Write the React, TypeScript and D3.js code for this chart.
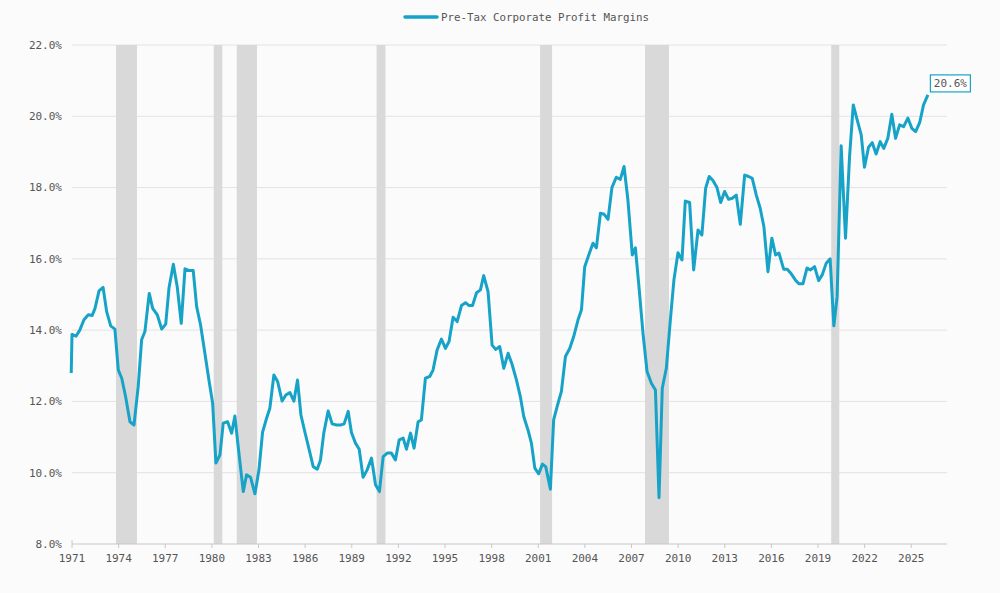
import React from 'react';
import * as d3 from 'd3';

// quarterly readings, decimal year
const dates = [
  1970.95, 1971.0, 1971.26, 1971.5, 1971.77, 1972.05, 1972.3, 1972.48, 1972.74, 1973.0,
  1973.23, 1973.49, 1973.76, 1973.98, 1974.2, 1974.45, 1974.73, 1974.99, 1975.26, 1975.48,
  1975.69, 1975.97, 1976.19, 1976.49, 1976.77, 1977.03, 1977.24, 1977.52, 1977.77, 1978.03,
  1978.27, 1978.54, 1978.8, 1979.02, 1979.27, 1979.55, 1979.81, 1980.05, 1980.26, 1980.52,
  1980.73, 1981.01, 1981.27, 1981.48, 1981.74, 1982.02, 1982.23, 1982.49, 1982.77, 1983.03,
  1983.26, 1983.52, 1983.73, 1983.99, 1984.23, 1984.52, 1984.76, 1985.02, 1985.28, 1985.51,
  1985.73, 1985.98, 1986.26, 1986.52, 1986.78, 1986.99, 1987.2, 1987.48, 1987.74, 1988.02,
  1988.28, 1988.51, 1988.77, 1988.98, 1989.24, 1989.48, 1989.73, 1989.99, 1990.27, 1990.53,
  1990.78, 1991.02, 1991.28, 1991.55, 1991.81, 1992.05, 1992.31, 1992.52, 1992.78, 1993.01,
  1993.27, 1993.48, 1993.74, 1994.02, 1994.23, 1994.49, 1994.77, 1995.03, 1995.26, 1995.52,
  1995.78, 1996.06, 1996.32, 1996.55, 1996.77, 1997.03, 1997.28, 1997.49, 1997.77, 1998.03,
  1998.27, 1998.52, 1998.78, 1999.06, 1999.31, 1999.6, 1999.85, 2000.07, 2000.34, 2000.56,
  2000.78, 2001.03, 2001.27, 2001.48, 2001.78, 2001.99, 2002.21, 2002.49, 2002.75, 2003.03,
  2003.28, 2003.56, 2003.78, 2003.99, 2004.25, 2004.52, 2004.74, 2005.0, 2005.24, 2005.49,
  2005.74, 2006.02, 2006.28, 2006.52, 2006.77, 2007.05, 2007.25, 2007.48, 2007.74, 2008.0,
  2008.28, 2008.54, 2008.77, 2008.98, 2009.24, 2009.5, 2009.73, 2009.99, 2010.25, 2010.46,
  2010.74, 2011.0, 2011.28, 2011.53, 2011.77, 2012.0, 2012.24, 2012.5, 2012.74, 2012.99,
  2013.25, 2013.48, 2013.74, 2014.0, 2014.28, 2014.54, 2014.77, 2015.03, 2015.28, 2015.52,
  2015.78, 2016.03, 2016.27, 2016.49, 2016.79, 2017.02, 2017.28, 2017.54, 2017.77, 2018.03,
  2018.29, 2018.52, 2018.78, 2019.04, 2019.27, 2019.53, 2019.78, 2020.02, 2020.23, 2020.49,
  2020.77, 2021.03, 2021.27, 2021.52, 2021.78, 2021.99, 2022.25, 2022.49, 2022.74, 2023.0,
  2023.23, 2023.49, 2023.75, 2023.99, 2024.25, 2024.51, 2024.78, 2025.04, 2025.28, 2025.54,
  2025.79, 2026.07,
];

const margins = [
  12.8, 13.88, 13.83, 14.0, 14.29, 14.43, 14.41, 14.61, 15.1, 15.2,
  14.52, 14.12, 14.03, 12.88, 12.65, 12.13, 11.43, 11.34, 12.42, 13.73,
  13.96, 15.03, 14.61, 14.43, 14.03, 14.17, 15.18, 15.85, 15.22, 14.19,
  15.72, 15.67, 15.67, 14.66, 14.15, 13.35, 12.6, 11.95, 10.27, 10.5,
  11.39, 11.43, 11.11, 11.59, 10.55, 9.47, 9.94, 9.87, 9.41, 10.08,
  11.13, 11.53, 11.81, 12.74, 12.56, 12.01, 12.18, 12.25, 12.01, 12.6,
  11.62, 11.15, 10.65, 10.17, 10.1, 10.36, 11.11, 11.73, 11.37, 11.34,
  11.34, 11.37, 11.72, 11.13, 10.83, 10.66, 9.87, 10.08, 10.41, 9.66,
  9.47, 10.45, 10.55, 10.55, 10.36, 10.92, 10.97, 10.66, 11.11, 10.69,
  11.43, 11.48, 12.65, 12.7, 12.88, 13.44, 13.75, 13.49, 13.68, 14.36,
  14.24, 14.69, 14.77, 14.69, 14.69, 15.05, 15.13, 15.53, 15.08, 13.58,
  13.46, 13.54, 12.93, 13.35, 13.05, 12.6, 12.13, 11.57, 11.2, 10.83,
  10.13, 9.97, 10.24, 10.17, 9.54, 11.48, 11.85, 12.28, 13.26, 13.49,
  13.82, 14.29, 14.57, 15.78, 16.11, 16.44, 16.31, 17.28, 17.25, 17.11,
  18.0, 18.29, 18.23, 18.59, 17.65, 16.11, 16.31, 15.22, 13.91, 12.84,
  12.51, 12.32, 9.3, 12.37, 12.93, 14.29, 15.41, 16.17, 15.97, 17.62,
  17.58, 15.69, 16.81, 16.67, 17.98, 18.31, 18.2, 18.0, 17.58, 17.89,
  17.67, 17.7, 17.79, 16.97, 18.35, 18.31, 18.26, 17.79, 17.42, 16.9,
  15.64, 16.58, 16.11, 16.16, 15.71, 15.71, 15.58, 15.41, 15.3, 15.3,
  15.74, 15.69, 15.78, 15.39, 15.55, 15.88, 16.0, 14.12, 14.94, 19.17,
  16.58, 18.87, 20.32, 19.9, 19.48, 18.57, 19.13, 19.26, 18.94, 19.29,
  19.1, 19.38, 20.06, 19.38, 19.76, 19.71, 19.95, 19.66, 19.57, 19.82,
  20.32, 20.6,
];

const recessionStarts = [1973.83, 1980.12, 1981.6, 1990.6, 2001.12, 2007.87, 2019.85];
const recessionEnds = [1975.18, 1980.67, 1982.9, 1991.17, 2001.89, 2009.41, 2020.37];

const xTickYears = [1971, 1974, 1977, 1980, 1983, 1986, 1989, 1992, 1995, 1998, 2001, 2004, 2007, 2010, 2013, 2016, 2019, 2022, 2025];
const yTicks = [8, 10, 12, 14, 16, 18, 20, 22];

const seriesName = 'Pre-Tax Corporate Profit Margins';

const W = 1000;
const H = 593;
const LINE = '#17a3c7';
const FONT = '"DejaVu Sans Mono", "Liberation Mono", monospace';

export default function App() {
  const x = d3.scaleLinear().domain([1971, 2027.3]).range([72, 947]);
  const y = d3.scaleLinear().domain([8, 22]).range([544, 45]);

  const points: [number, number][] = dates.map((d, i) => [d, margins[i]]);
  const path = d3
    .line<[number, number]>()
    .x((d) => x(d[0]))
    .y((d) => y(d[1]))(points);

  const last = points[points.length - 1];
  const lx = x(last[0]);
  const ly = y(last[1]);

  return (
    <svg
      width={W}
      height={H}
      style={{ position: 'absolute', left: 0, top: 0, fontFamily: FONT }}
    >
      <rect width={W} height={H} fill="#fbfbfb" />

      {/* legend */}
      <g>
        <line x1={405} x2={437} y1={17} y2={17} stroke={LINE} strokeWidth={3.5} strokeLinecap="round" />
        <text x={441} y={17} dy="0.35em" fontSize={10.8} fill="#555">
          {seriesName}
        </text>
      </g>

      {/* gridlines */}
      {yTicks.slice(1).map((t) => (
        <line key={t} x1={x.range()[0]} x2={x.range()[1]} y1={y(t)} y2={y(t)} stroke="#e3e3e3" strokeWidth={1} />
      ))}

      {/* recession bands */}
      {recessionStarts.map((s, i) => (
        <rect
          key={s}
          x={x(s)}
          y={y(22)}
          width={x(recessionEnds[i]) - x(s)}
          height={y(8) - y(22)}
          fill="#d9d9d9"
        />
      ))}

      {/* y labels */}
      {yTicks.map((t) => (
        <text key={t} x={62} y={y(t)} dy="0.35em" textAnchor="end" fontSize={11} fill="#555">
          {t.toFixed(1) + '%'}
        </text>
      ))}

      {/* x axis */}
      <line x1={x.range()[0]} x2={x.range()[1]} y1={y(8)} y2={y(8)} stroke="#c8c8c8" strokeWidth={1.2} />
      <line x1={x(1971)} x2={x(1971)} y1={y(8) - 4} y2={y(8)} stroke="#c8c8c8" />
      {xTickYears.map((t) => (
        <g key={t} transform={`translate(${x(t)},${y(8)})`}>
          <line y1={0} y2={4} stroke="#c8c8c8" />
          <text y={14} dy="0.35em" textAnchor="middle" fontSize={11} fill="#555">
            {t}
          </text>
        </g>
      ))}

      {/* series */}
      <path d={path ?? ''} fill="none" stroke={LINE} strokeWidth={3} strokeLinejoin="round" />

      {/* last value label */}
      <g>
        <rect x={lx + 2.5} y={ly - 20} width={40} height={17} fill="#fff" stroke={LINE} strokeWidth={1.2} />
        <text x={lx + 22.5} y={ly - 11.5} dy="0.35em" textAnchor="middle" fontSize={11} fill="#555">
          {last[1].toFixed(1) + '%'}
        </text>
      </g>
    </svg>
  );
}
